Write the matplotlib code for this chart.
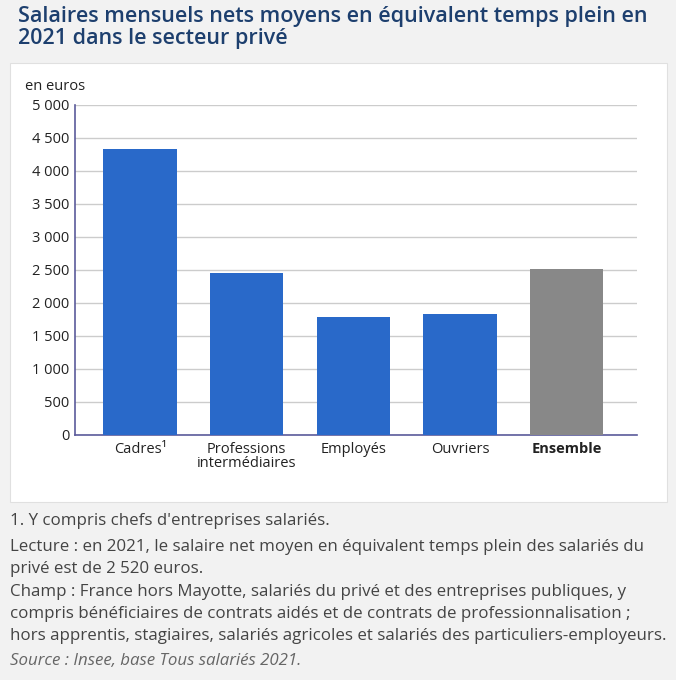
import matplotlib.pyplot as plt
from matplotlib.patches import Rectangle
import numpy as np

plt.rcParams['font.family'] = ['Open Sans', 'DejaVu Sans']

# data
categories = ['Cadres¹', 'Professions\nintermédiaires', 'Employés', 'Ouvriers', 'Ensemble']
salaires = [4330, 2460, 1790, 1840, 2520]
couleurs = ['#2969c9', '#2969c9', '#2969c9', '#2969c9', '#888888']
yticks = [0, 500, 1000, 1500, 2000, 2500, 3000, 3500, 4000, 4500, 5000]

W, H = 676, 680
fig = plt.figure(figsize=(W / 100, H / 100), dpi=100)
fig.patch.set_facecolor('#f2f2f2')

# white panel behind chart
fig.patches.append(Rectangle((10 / W, 1 - 502 / H), 657 / W, 439 / H,
                             transform=fig.transFigure, facecolor='white',
                             edgecolor='#e0e0e0', linewidth=0.8, zorder=-5))

ax = fig.add_axes([75 / W, 1 - 435 / H, 562 / W, 330 / H])
ax.set_zorder(2)
ax.set_facecolor('white')
x = np.arange(len(categories))
ax.bar(x, salaires, width=0.69, color=couleurs, zorder=3)
ax.set_xlim(-0.61, 4.66)
ax.set_ylim(0, 5000)
ax.set_yticks(yticks)
ax.set_yticklabels(['{:,}'.format(v).replace(',', ' ') for v in yticks], fontsize=10.5, color='#222222')
ax.set_xticks(x)
ax.set_xticklabels(categories, fontsize=10.5, color='#222222', linespacing=0.95)
ax.get_xticklabels()[-1].set_fontweight('bold')
ax.tick_params(axis='both', length=0, pad=4)
ax.tick_params(axis='x', pad=5)
ax.yaxis.grid(True, color='#cccccc', linewidth=1, zorder=0)
for s in ['top', 'right']:
    ax.spines[s].set_visible(False)
for s in ['left', 'bottom']:
    ax.spines[s].set_color('#5b5b9b')
    ax.spines[s].set_linewidth(1.2)

fig.text(25 / W, 1 - 86 / H, 'en euros', fontsize=10.5, color='#222222', va='center')

# title
fig.text(18 / W, 1 - 6 / H, 'Salaires mensuels nets moyens en équivalent temps plein en\n2021 dans le secteur privé',
         fontsize=15.5, fontweight='semibold', color='#1d3f6e', va='top', linespacing=1.08)

# notes
note_col = '#444444'
fig.text(10 / W, 1 - 521 / H, "1. Y compris chefs d'entreprises salariés.",
         fontsize=12.2, color=note_col, va='center')
fig.text(10 / W, 1 - 558 / H,
         'Lecture : en 2021, le salaire net moyen en équivalent temps plein des salariés du\nprivé est de 2 520 euros.',
         fontsize=12.2, color=note_col, va='center', linespacing=1.52)
fig.text(10 / W, 1 - 614 / H,
         'Champ : France hors Mayotte, salariés du privé et des entreprises publiques, y\n'
         'compris bénéficiaires de contrats aidés et de contrats de professionnalisation ;\n'
         'hors apprentis, stagiaires, salariés agricoles et salariés des particuliers-employeurs.',
         fontsize=12.2, color=note_col, va='center', linespacing=1.52)
fig.text(10 / W, 1 - 661 / H, 'Source : Insee, base Tous salariés 2021.',
         fontsize=12.2, color='#666666', va='center', style='italic')

fig.savefig('out.png', dpi=100, facecolor=fig.get_facecolor())
